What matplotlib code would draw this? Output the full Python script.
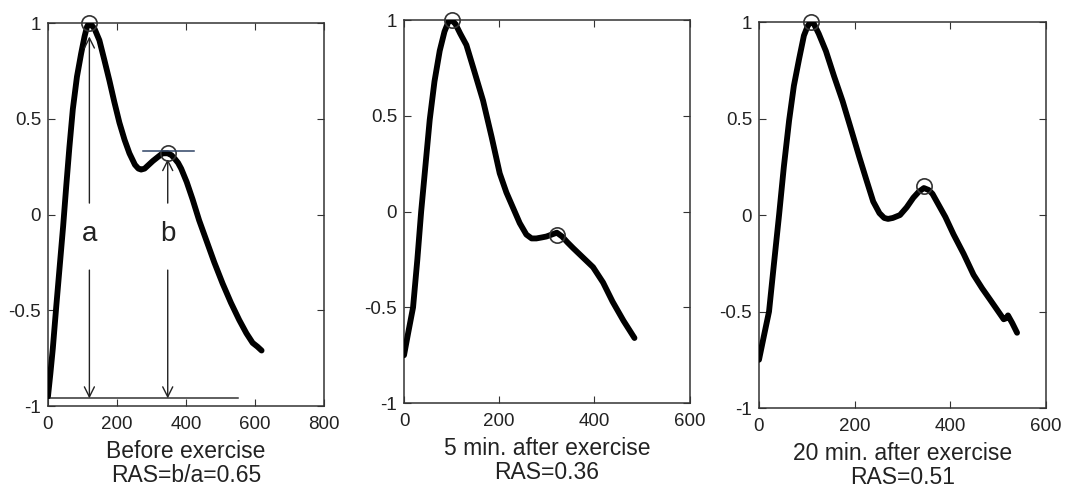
import numpy as np
import matplotlib.pyplot as plt

plt.rcParams['font.family'] = ['Liberation Sans', 'DejaVu Sans']

# -------------------------------
# Pulse waveforms
# -------------------------------
# before exercise
x_before = [0, 7, 14, 24, 34, 44, 53, 62, 72, 84, 96, 106, 113, 119, 126, 135,
            149, 163, 178, 192, 207, 222, 236, 252, 262, 270, 280, 292, 304,
            318, 332, 347, 358, 368, 377, 386, 402, 419, 438, 458, 482, 506,
            530, 554, 575, 593, 607, 619]
y_before = [-0.95, -0.83, -0.70, -0.48, -0.27, -0.06, 0.15, 0.35, 0.55, 0.72,
            0.84, 0.93, 0.98, 1.00, 0.99, 0.97, 0.91, 0.81, 0.70, 0.59, 0.48,
            0.39, 0.32, 0.26, 0.24, 0.235, 0.24, 0.26, 0.28, 0.30, 0.32, 0.32,
            0.31, 0.29, 0.27, 0.24, 0.17, 0.08, -0.03, -0.13, -0.25, -0.36,
            -0.46, -0.55, -0.62, -0.67, -0.69, -0.71]

# 5 min after exercise
x_5min = [0, 9, 19, 28, 36, 45, 54, 64, 75, 85, 93, 100, 108, 118, 131, 148,
          166, 184, 201, 215, 229, 243, 257, 268, 278, 289, 299, 310, 321, 332,
          343, 355, 376, 397, 418, 438, 461, 484]
y_5min = [-0.75, -0.63, -0.50, -0.25, 0.00, 0.24, 0.48, 0.68, 0.84, 0.94, 0.99,
          1.00, 0.98, 0.93, 0.87, 0.73, 0.58, 0.39, 0.20, 0.10, 0.02, -0.06,
          -0.12, -0.14, -0.14, -0.135, -0.13, -0.12, -0.11, -0.13, -0.16,
          -0.19, -0.24, -0.29, -0.37, -0.47, -0.57, -0.66]

# 20 min after exercise
x_20min = [0, 10, 21, 31, 42, 52, 63, 73, 84, 94, 102, 108, 115, 125, 140, 157,
           175, 192, 210, 225, 239, 252, 262, 270, 280, 295, 309, 323, 334, 345,
           355, 363, 372, 390, 407, 428, 449, 467, 484, 498, 512, 517, 521,
           530, 540]
y_20min = [-0.75, -0.63, -0.50, -0.26, 0.00, 0.25, 0.49, 0.67, 0.81, 0.93,
           0.98, 1.00, 0.99, 0.94, 0.85, 0.72, 0.59, 0.45, 0.30, 0.18, 0.07,
           0.01, -0.015, -0.02, -0.015, 0.00, 0.04, 0.09, 0.12, 0.14, 0.13,
           0.11, 0.07, -0.01, -0.10, -0.20, -0.31, -0.38, -0.44, -0.49, -0.54,
           -0.535, -0.52, -0.56, -0.61]

# detected peaks (x, y)
peaks_before = ([120, 347], [1.00, 0.32])
peaks_5min = ([100, 321], [1.00, -0.12])
peaks_20min = ([108, 345], [1.00, 0.15])

labels = ["Before exercise\nRAS=b/a=0.65",
          "5 min. after exercise\nRAS=0.36",
          "20 min. after exercise\nRAS=0.51"]
xmax = [800, 600, 600]

rects = [[0.045, 0.173, 0.259, 0.780],
         [0.379, 0.179, 0.268, 0.780],
         [0.712, 0.169, 0.269, 0.786]]

series = [(x_before, y_before, peaks_before),
          (x_5min, y_5min, peaks_5min),
          (x_20min, y_20min, peaks_20min)]

fig = plt.figure(figsize=(10.66, 4.91), dpi=100)
text_col = '#222222'

axes = []
for i, (xs, ys, pk) in enumerate(series):
    ax = fig.add_axes(rects[i])
    ax.plot(xs, ys, color='black', lw=4.2, solid_capstyle='round',
            solid_joinstyle='round', zorder=3)
    ax.plot(pk[0], pk[1], 'o', ms=11, mfc='none', mec='#333333', mew=1.2,
            zorder=4, clip_on=False)
    ax.set_xlim(0, xmax[i])
    ax.set_ylim(-1, 1)
    xt = np.arange(0, xmax[i] + 1, 200)
    ax.set_xticks(xt)
    ax.set_xticklabels([str(v) for v in xt])
    ax.set_yticks([-1, -0.5, 0, 0.5, 1])
    ax.set_yticklabels(['-1', '-0.5', '0', '0.5', '1'])
    ax.tick_params(direction='in', length=5, width=0.8, top=True, right=True,
                   labelsize=13.5, colors='#333333', labelcolor=text_col)
    ax.tick_params(axis='x', pad=7)
    ax.tick_params(axis='y', pad=5)
    for s in ax.spines.values():
        s.set_color('#333333')
        s.set_linewidth(1.1)
    ax.set_xlabel(labels[i], fontsize=16.5, color=text_col, labelpad=5,
                  linespacing=1.05)
    axes.append(ax)

# annotation of a and b on the first panel
ax = axes[0]
base_y = -0.96
ax.plot([0, 552], [base_y, base_y], color='#333333', lw=1.1, zorder=2)
ax.plot([275, 424], [0.33, 0.33], color='#2f4466', lw=1.1, zorder=5)
arrow = dict(arrowstyle='->', lw=1.0, color='#222222', mutation_scale=18,
             shrinkA=0, shrinkB=0)
for xp, yp, name in [(120, 0.93, 'a'), (347, 0.29, 'b')]:
    ax.annotate('', xy=(xp, yp), xytext=(xp, 0.06), arrowprops=arrow)
    ax.annotate('', xy=(xp, base_y), xytext=(xp, -0.29), arrowprops=arrow)
    ax.text(xp, -0.1, name, fontsize=20, color=text_col, ha='center',
            va='center')

plt.savefig("out.png", dpi=100)
